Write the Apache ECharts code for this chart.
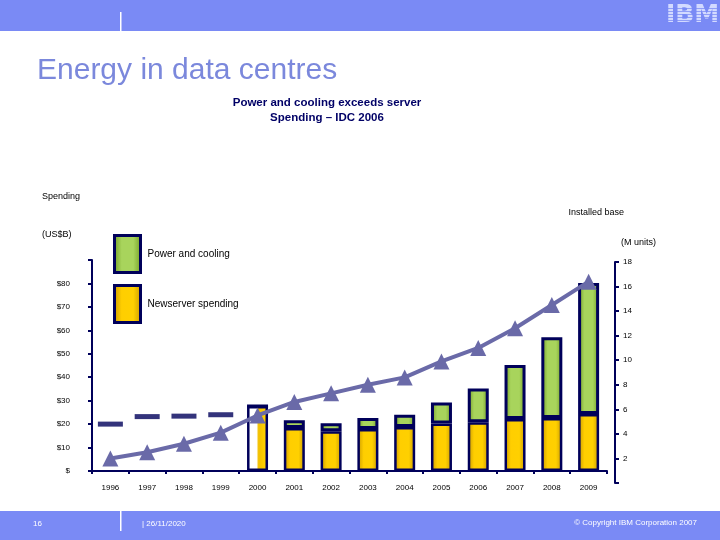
<!DOCTYPE html>
<html>
<head>
<meta charset="utf-8">
<script src="https://cdn.jsdelivr.net/npm/echarts@6/dist/echarts.min.js"></script>
<style>
html,body{margin:0;padding:0;background:#fff;}
#c{width:720px;height:540px;}
</style>
</head>
<body>
<div id="c"></div>
<script>
const categories = ['1996','1997','1998','1999','2000','2001','2002','2003','2004','2005','2006','2007','2008','2009'];
const newServerSpending = [null,null,null,null,27.7,18.3,17.0,17.9,18.8,20.3,20.8,22.2,22.6,24.3];
const powerAndCooling  = [null,null,null,null,0,3.4,3.4,4.7,5.2,8.9,14.4,23.0,34.5,55.9];
const earlyServerSpending = [20.0,23.2,23.4,24.0,null,null,null,null,null,null,null,null,null,null];
const installedBase = [2.0,2.5,3.2,4.1,5.5,6.6,7.3,8.0,8.6,9.9,11.0,12.6,14.5,16.4];
const spendingTickLabels = ['$','$10','$20','$30','$40','$50','$60','$70','$80',''];
const unitsTickLabels = ['','2','4','6','8','10','12','14','16','18'];

const NAVY = '#00005A';
const BAND = '#7A8AF5';
const FONT = '"Liberation Sans", Arial, sans-serif';

const chart = echarts.init(document.getElementById('c'));
const LG = echarts.graphic.LinearGradient;
const yellow = new LG(0,0,1,0,[{offset:0,color:'#C89800'},{offset:0.3,color:'#FFCE00'},{offset:0.7,color:'#FFD000'},{offset:1,color:'#C89800'}]);
const green = new LG(0,0,1,0,[{offset:0,color:'#6F9A22'},{offset:0.3,color:'#A8D45C'},{offset:0.7,color:'#A8D45C'},{offset:1,color:'#6F9A22'}]);
const whiteYellow = new LG(0,0,1,0,[{offset:0,color:'#FFFFFF'},{offset:0.45,color:'#FFFFFF'},{offset:0.55,color:'#F2C000'},{offset:0.85,color:'#FFD000'},{offset:1,color:'#B08800'}]);

const serverData = newServerSpending.map((v,i)=> i===4 ? {value:v,itemStyle:{color:whiteYellow}} : v);

const stripes = [];
for (let k=0;k<7;k++){
  stripes.push({type:'rect',shape:{x:664,y:6+k*3+2,width:56,height:0.8},style:{fill:BAND},z:101});
}

chart.setOption({
  animation:false,
  textStyle:{fontFamily:FONT},
  title:[
    {text:'Energy in data centres',left:32,top:51,textStyle:{fontSize:30,fontWeight:'normal',color:'#7B88DC',fontFamily:FONT}},
    {text:'Power and cooling exceeds server\nSpending – IDC 2006',left:322,top:90,textAlign:'center',
     textStyle:{fontSize:11.5,fontWeight:'bold',color:'#000066',lineHeight:15,fontFamily:FONT}}
  ],
  legend:{
    orient:'vertical',left:108,top:229,itemWidth:26,itemHeight:37,itemGap:10,icon:'rect',
    data:['Power and cooling','Newserver spending'],
    itemStyle:{borderColor:NAVY,borderWidth:3},
    textStyle:{fontSize:10,color:'#000',padding:[0,0,0,2]},
    selectedMode:false
  },
  grid:[
    {left:92,right:113,top:260,bottom:69},
    {left:92,right:113,top:262,bottom:57}
  ],
  xAxis:[
    {type:'category',gridIndex:0,data:categories,
     axisLine:{lineStyle:{color:NAVY,width:2}},
     axisTick:{show:true,length:3,lineStyle:{color:NAVY,width:2}},
     axisLabel:{fontSize:8,color:'#000',margin:13}},
    {type:'category',gridIndex:1,data:categories,show:false}
  ],
  yAxis:[
    {type:'value',gridIndex:0,min:0,max:90,interval:10,
     axisLine:{show:true,lineStyle:{color:NAVY,width:2}},
     axisTick:{show:true,length:4,lineStyle:{color:NAVY,width:2}},
     splitLine:{show:false},
     axisLabel:{fontSize:8,color:'#000',margin:22,formatter:(v)=>spendingTickLabels[Math.round(v/10)]}},
    {type:'value',gridIndex:1,position:'right',offset:8,min:0,max:18,interval:2,
     axisLine:{show:true,lineStyle:{color:NAVY,width:2}},
     axisTick:{show:true,length:4,lineStyle:{color:NAVY,width:2}},
     splitLine:{show:false},
     axisLabel:{fontSize:8,color:'#000',margin:8,formatter:(v)=>unitsTickLabels[Math.round(v/2)]}}
  ],
  series:[
    {name:'Newserver spending',type:'bar',stack:'s',xAxisIndex:0,yAxisIndex:0,barWidth:21,
     data:serverData,itemStyle:{color:yellow,borderColor:NAVY,borderWidth:2.5}},
    {name:'Power and cooling',type:'bar',stack:'s',xAxisIndex:0,yAxisIndex:0,barWidth:21,
     data:powerAndCooling,itemStyle:{color:green,borderColor:NAVY,borderWidth:3}},
    {name:'Early server spending',type:'scatter',xAxisIndex:0,yAxisIndex:0,
     symbol:'rect',symbolSize:[25,5],data:earlyServerSpending,itemStyle:{color:NAVY},z:3},
    {name:'Installed base',type:'line',xAxisIndex:1,yAxisIndex:1,data:installedBase,
     symbol:'triangle',symbolSize:16,lineStyle:{color:'#6A6AA8',width:4},
     itemStyle:{color:'#6A6AA8'},z:5}
  ],
  graphic:[
    {type:'rect',shape:{x:0,y:0,width:720,height:31},style:{fill:BAND},z:100},
    {type:'rect',shape:{x:120,y:12,width:1.5,height:19},style:{fill:'#fff'},z:101},
    {type:'text',left:666,top:3,style:{text:'IBM',fontSize:25,fontWeight:'bold',fill:'#D3DAFF',fontFamily:'"DejaVu Sans", sans-serif'},z:100},
    ...stripes,
    {type:'rect',shape:{x:0,y:511,width:720,height:29},style:{fill:BAND},z:100},
    {type:'rect',shape:{x:120,y:511,width:1.5,height:20},style:{fill:'#fff'},z:101},
    {type:'text',left:33,top:520,style:{text:'16',fontSize:8,fill:'#fff',fontFamily:FONT},z:101},
    {type:'text',left:142,top:520,style:{text:'| 26/11/2020',fontSize:8,fill:'#fff',fontFamily:FONT},z:101},
    {type:'text',right:23,top:519,style:{text:'© Copyright IBM Corporation 2007',fontSize:8,fill:'#fff',fontFamily:FONT},z:101},
    {type:'text',left:42,top:192,style:{text:'Spending',fontSize:9,fill:'#000',fontFamily:FONT}},
    {type:'text',left:42,top:230,style:{text:'(US$B)',fontSize:9,fill:'#000',fontFamily:FONT}},
    {type:'text',right:96,top:208,style:{text:'Installed base',fontSize:9,fill:'#000',fontFamily:FONT}},
    {type:'text',left:621,top:238,style:{text:'(M units)',fontSize:9,fill:'#000',fontFamily:FONT}}
  ]
});
</script>
</body>
</html>
